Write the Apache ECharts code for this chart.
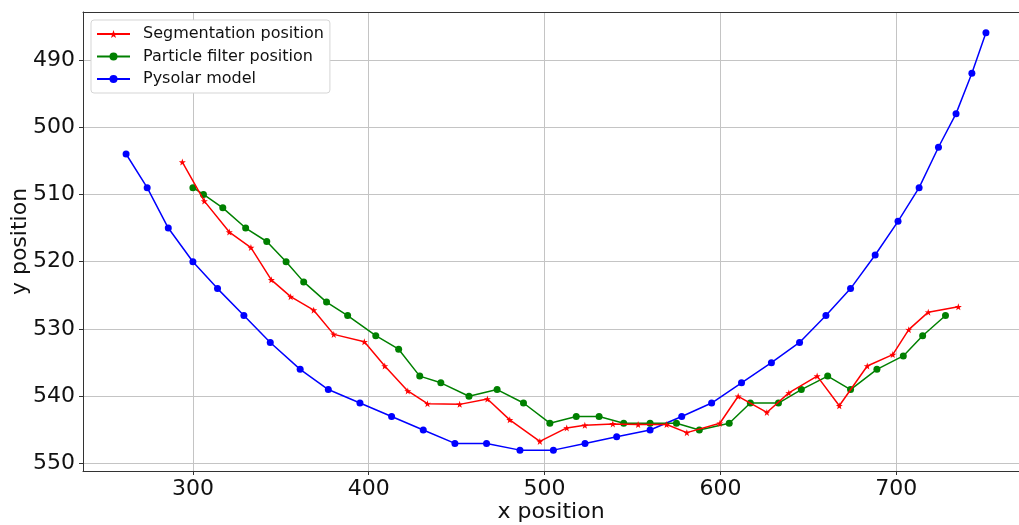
<!DOCTYPE html>
<html>
<head>
<meta charset="utf-8">
<script src="https://cdn.jsdelivr.net/npm/echarts@6/dist/echarts.min.js"></script>
<style>
  html, body { margin: 0; padding: 0; background: #fff; }
  #chart { width: 1019px; height: 525px; }
</style>
</head>
<body>
<div id="chart"></div>
<script>
// Segmentation position
const segX = [294, 306.5, 320.7, 333, 344.6, 355.6, 368.7, 380.1, 397.5, 409.1, 422.2, 433.4, 451.7, 467.5, 480.2, 497.3, 512.6, 522.9, 538.8, 553.2, 569.4, 580.9, 599.7, 610.1, 626.4, 638.9, 655, 667.6, 683.5, 698, 707.1, 718.2, 735.3];
const segY = [505.2, 511, 515.6, 517.9, 522.7, 525.2, 527.2, 530.8, 531.9, 535.5, 539.2, 541.1, 541.2, 540.4, 543.5, 546.7, 544.7, 544.3, 544.1, 544.2, 544.2, 545.4, 544.0, 540, 542.4, 539.5, 537, 541.4, 535.5, 533.8, 530.1, 527.5, 526.7];

// Particle filter position
const pfX = [300, 306, 317, 330, 342, 353, 363, 376, 388, 404, 417, 429, 441, 457, 473, 488, 503, 518, 531, 545, 560, 575, 588, 605, 617, 633, 646, 661, 674, 689, 704, 715, 728];
const pfY = [509, 510, 512, 515, 517, 520, 523, 526, 528, 531, 533, 537, 538, 540, 539, 541, 544, 543, 543, 544, 544, 544, 545, 544, 541, 541, 539, 537, 539, 536, 534, 531, 528];

// Pysolar model
const solX = [262, 274, 286, 300, 314, 329, 344, 361, 377, 395, 413, 431, 449, 467, 486, 505, 523, 541, 560, 578, 595, 612, 629, 645, 660, 674, 688, 701, 713, 724, 734, 743, 751];
const solY = [504, 509, 515, 520, 524, 528, 532, 536, 539, 541, 543, 545, 547, 547, 548, 548, 547, 546, 545, 543, 541, 538, 535, 532, 528, 524, 519, 514, 509, 503, 498, 492, 486];

const yTicks = [490, 500, 510, 520, 530, 540, 550];
const xTicks = [300, 400, 500, 600, 700];

const zip = (xs, ys) => xs.map((x, i) => [x, ys[i]]);

const star = 'path://M50,0 L61.8,35.1 L97.6,34.5 L69,56.2 L79.4,90.5 L50,70 L20.6,90.5 L31,56.2 L2.4,34.5 L38.2,35.1 Z';
const font = 'DejaVu Sans';
const xMin = 237.5, xMax = 769.8;

const chart = echarts.init(document.getElementById('chart'));

chart.setOption({
  animation: false,
  textStyle: { fontFamily: font },
  grid: { left: 83, right: 0, top: 12, bottom: 54, show: false, outerBoundsMode: 'none', containLabel: false },
  legend: {
    orient: 'vertical',
    left: 91, top: 20,
    padding: [6, 6, 6, 5],
    itemWidth: 33, itemHeight: 10, itemGap: 6.5,
    backgroundColor: '#fff',
    borderColor: '#d5d5d5', borderWidth: 1, borderRadius: 3,
    textStyle: { fontFamily: font, fontSize: 16, color: '#111', padding: [0, 0, 0, 8] },
    data: ['Segmentation position', 'Particle filter position', 'Pysolar model']
  },
  xAxis: [{
    type: 'value',
    min: xMin, max: xMax,
    name: 'x position',
    nameLocation: 'middle',
    nameGap: 30,
    nameMoveOverlap: false,
    nameTextStyle: { fontFamily: font, fontSize: 22, color: '#111' },
    axisLine: { show: true, lineStyle: { color: '#333', width: 1 } },
    axisTick: { show: true, inside: false, length: 4, customValues: xTicks, lineStyle: { color: '#333' } },
    axisLabel: { customValues: xTicks, fontFamily: font, fontSize: 22, color: '#111', margin: 7 },
    splitLine: { show: true, lineStyle: { color: '#c4c4c4', width: 1 } }
  }, {
    type: 'value',
    position: 'top',
    min: xMin, max: xMax,
    axisLine: { show: true, onZero: false, lineStyle: { color: '#333', width: 1 } },
    axisTick: { show: false },
    axisLabel: { show: false },
    splitLine: { show: false }
  }],
  yAxis: {
    type: 'value',
    inverse: true,
    min: 482.9, max: 551.1,
    name: 'y position',
    nameLocation: 'middle',
    nameRotate: 90,
    nameGap: 52,
    nameMoveOverlap: false,
    nameTextStyle: { fontFamily: font, fontSize: 22, color: '#111' },
    axisLine: { show: true, lineStyle: { color: '#333', width: 1 } },
    axisTick: { show: true, inside: false, length: 4, customValues: yTicks, lineStyle: { color: '#333' } },
    axisLabel: { customValues: yTicks, fontFamily: font, fontSize: 22, color: '#111', margin: 8 },
    splitLine: { show: true, lineStyle: { color: '#c4c4c4', width: 1 } }
  },
  series: [
    {
      name: 'Segmentation position',
      type: 'line',
      data: zip(segX, segY),
      symbol: star, symbolSize: 7,
      showAllSymbol: true,
      itemStyle: { color: '#ff0000' },
      lineStyle: { color: '#ff0000', width: 1.5 },
      z: 4
    },
    {
      name: 'Particle filter position',
      type: 'line',
      data: zip(pfX, pfY),
      symbol: 'circle', symbolSize: 7,
      showAllSymbol: true,
      itemStyle: { color: '#008000' },
      lineStyle: { color: '#008000', width: 1.5 },
      z: 3
    },
    {
      name: 'Pysolar model',
      type: 'line',
      data: zip(solX, solY),
      symbol: 'circle', symbolSize: 7,
      showAllSymbol: true,
      itemStyle: { color: '#0000ff' },
      lineStyle: { color: '#0000ff', width: 1.5 },
      z: 2
    }
  ]
});
</script>
</body>
</html>
